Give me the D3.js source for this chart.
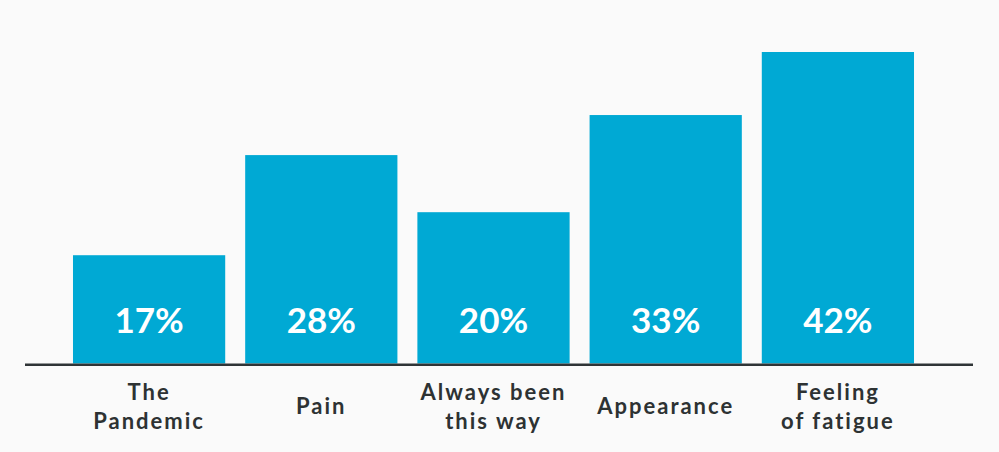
<!DOCTYPE html>
<html>
<head>
<meta charset="utf-8">
<script src="https://cdn.jsdelivr.net/npm/d3@7"></script>
<style>
  html, body { margin: 0; padding: 0; background: #fafafa; }
  svg { display: block; }
</style>
</head>
<body>
<div id="chart"></div>
<script>
// categories (line breaks as in the picture)
const categories = [
  ['The', 'Pandemic'],
  ['Pain'],
  ['Always been', 'this way'],
  ['Appearance'],
  ['Feeling', 'of fatigue']
];
// printed percentages
const labels = [17, 28, 20, 33, 42];
// bar heights, in %
const barValues = [14.6, 28.1, 20.4, 33.5, 42];

const W = 999, H = 452;
const svg = d3.select('#chart').append('svg')
  .attr('width', W).attr('height', H)
  .style('background', '#fafafa');

const keys = categories.map((c, i) => 'c' + i);
const x = d3.scaleBand().domain(keys).range([63, 924]).paddingInner(0.116).paddingOuter(0.058);
const y = d3.scaleLinear().domain([0, 42]).range([363.5, 52]);

svg.selectAll('.bar')
  .data(barValues)
  .enter()
  .append('rect')
  .attr('class', 'bar')
  .attr('x', (d, i) => x(keys[i]))
  .attr('y', d => y(d))
  .attr('width', x.bandwidth())
  .attr('height', d => y(0) - y(d))
  .attr('fill', '#00a9d4');

svg.selectAll('.pct')
  .data(labels)
  .enter()
  .append('text')
  .attr('class', 'pct')
  .attr('x', (d, i) => x(keys[i]) + x.bandwidth() / 2)
  .attr('y', 333)
  .attr('text-anchor', 'middle')
  .attr('font-family', 'Lato, sans-serif')
  .attr('font-weight', 700)
  .attr('font-size', 35)
  .attr('fill', '#ffffff')
  .text(d => d + '%');

// baseline
svg.append('line')
  .attr('x1', 25).attr('x2', 973)
  .attr('y1', 364.8).attr('y2', 364.8)
  .attr('stroke', '#2f3436')
  .attr('stroke-width', 2.6);

const lineH = 29;
const cat = svg.selectAll('.cat')
  .data(categories)
  .enter()
  .append('text')
  .attr('class', 'cat')
  .attr('text-anchor', 'middle')
  .attr('font-family', 'Lato, sans-serif')
  .attr('font-weight', 700)
  .attr('font-size', 22)
  .attr('letter-spacing', 2)
  .attr('fill', '#2d3233');

cat.each(function (lines, i) {
  const cx = x(keys[i]) + x.bandwidth() / 2;
  const y0 = 414 - (lines.length - 1) * lineH / 2;
  d3.select(this).selectAll('tspan')
    .data(lines)
    .enter()
    .append('tspan')
    .attr('x', cx)
    .attr('y', (d, j) => y0 + j * lineH)
    .text(d => d);
});
</script>
</body>
</html>
